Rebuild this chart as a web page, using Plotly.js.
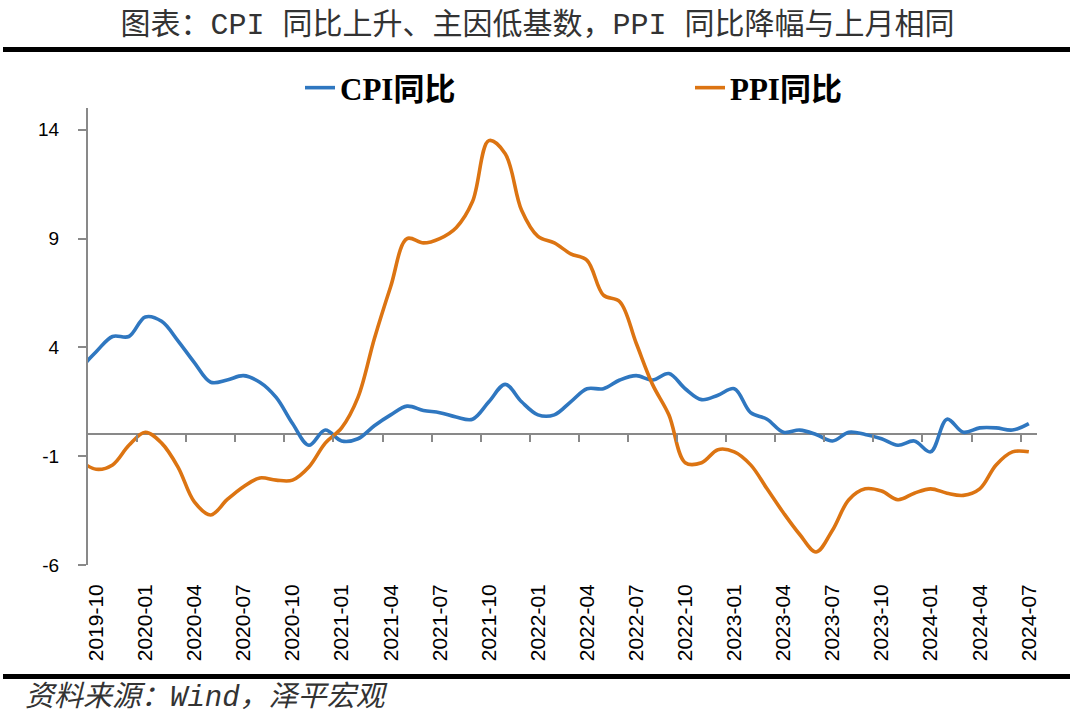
<!DOCTYPE html>
<html>
<head>
<meta charset="utf-8">
<script src="https://cdn.plot.ly/plotly-3.0.1.min.js"></script>
<style>html,body{margin:0;padding:0;background:#fff;}#chart{width:1080px;height:722px;}</style>
</head>
<body>
<div id="chart"></div>
<script>
// Months (2019-09 is just outside the visible range, line runs in from the left edge)
const months = ["2019-09","2019-10","2019-11","2019-12",
  "2020-01","2020-02","2020-03","2020-04","2020-05","2020-06","2020-07","2020-08","2020-09","2020-10","2020-11","2020-12",
  "2021-01","2021-02","2021-03","2021-04","2021-05","2021-06","2021-07","2021-08","2021-09","2021-10","2021-11","2021-12",
  "2022-01","2022-02","2022-03","2022-04","2022-05","2022-06","2022-07","2022-08","2022-09","2022-10","2022-11","2022-12",
  "2023-01","2023-02","2023-03","2023-04","2023-05","2023-06","2023-07","2023-08","2023-09","2023-10","2023-11","2023-12",
  "2024-01","2024-02","2024-03","2024-04","2024-05","2024-06","2024-07"];

const cpiYoY = [3.0,3.8,4.5,4.5,
  5.4,5.2,4.3,3.3,2.4,2.5,2.7,2.4,1.7,0.5,-0.5,0.2,
  -0.3,-0.2,0.4,0.9,1.3,1.1,1.0,0.8,0.7,1.5,2.3,1.5,
  0.9,0.9,1.5,2.1,2.1,2.5,2.7,2.5,2.8,2.1,1.6,1.8,
  2.1,1.0,0.7,0.1,0.2,0.0,-0.3,0.1,0.0,-0.2,-0.5,-0.3,
  -0.8,0.7,0.1,0.3,0.3,0.2,0.5];

const ppiYoY = [-1.2,-1.6,-1.4,-0.5,
  0.1,-0.4,-1.5,-3.1,-3.7,-3.0,-2.4,-2.0,-2.1,-2.1,-1.5,-0.4,
  0.3,1.7,4.4,6.8,9.0,8.8,9.0,9.5,10.7,13.5,12.9,10.3,
  9.1,8.8,8.3,8.0,6.4,6.1,4.2,2.3,0.9,-1.3,-1.3,-0.7,
  -0.8,-1.4,-2.5,-3.6,-4.6,-5.4,-4.4,-3.0,-2.5,-2.6,-3.0,-2.7,
  -2.5,-2.7,-2.8,-2.5,-1.4,-0.8,-0.8];

const xTickLabels = ["2019-10","2020-01","2020-04","2020-07","2020-10","2021-01","2021-04","2021-07","2021-10",
  "2022-01","2022-04","2022-07","2022-10","2023-01","2023-04","2023-07","2023-10","2024-01","2024-04","2024-07"];
const yTickVals = [14, 9, 4, -1, -6];

const seriesNames = ["CPI同比", "PPI同比"];
const titleText = "图表：CPI 同比上升、主因低基数，PPI 同比降幅与上月相同";
const sourceText = "资料来源：Wind，泽平宏观";

const yMin = -6, yMax = 15;
const xRange = [0.5, months.length - 0.5];
// boundary tick marks every 3 months on the zero axis
const boundaryTicks = [];
for (let i = 3.5; i < months.length - 0.5; i += 3) boundaryTicks.push(i);

const gray = '#898989';
const traces = [
  {x: months, y: cpiYoY, name: seriesNames[0], type: 'scatter', mode: 'lines',
   line: {color: '#2F77C0', width: 3.6, shape: 'spline', smoothing: 1}, xaxis: 'x', yaxis: 'y'},
  {x: months, y: ppiYoY, name: seriesNames[1], type: 'scatter', mode: 'lines',
   line: {color: '#DC7412', width: 3.6, shape: 'spline', smoothing: 1}, xaxis: 'x', yaxis: 'y'},
  // empty helper trace so the tick-only axis on the zero line is drawn
  {x: [], y: [], type: 'scatter', mode: 'lines', xaxis: 'x2', yaxis: 'y', showlegend: false, hoverinfo: 'skip'}
];

const L = 88, R = 1037, T = 108, B = 565, W = 1080, H = 722;
const pw = R - L, ph = B - T;
const px = v => (v - L) / pw;
const py = v => (B - v) / ph;

const layout = {
  width: W, height: H,
  margin: {l: L, r: W - R, t: T, b: H - B, pad: 0, autoexpand: false},
  paper_bgcolor: '#fff', plot_bgcolor: '#fff',
  showlegend: true,
  title: {text: titleText, xref: 'container', yref: 'container', x: 537.5 / W, xanchor: 'center',
          y: 1 - 23 / H, yanchor: 'middle',
          font: {family: 'Liberation Mono, Noto Sans CJK SC', size: 30, color: '#333'}},
  legend: {orientation: 'h', x: px(300), xanchor: 'left', y: py(88), yanchor: 'middle',
           font: {family: 'Liberation Serif, Noto Sans CJK SC', size: 31, color: '#000', weight: 'bold'},
           entrywidth: 345, entrywidthmode: 'pixels', itemwidth: 30, bgcolor: 'rgba(0,0,0,0)'},
  xaxis: {type: 'category', range: xRange, tickmode: 'array', tickvals: xTickLabels, ticktext: xTickLabels,
          tickangle: -90, ticks: '', showgrid: false, zeroline: false, showline: false,
          tickfont: {family: 'Liberation Sans, Arial', size: 21, color: '#000'}, ticklabelstandoff: 14,
          fixedrange: true},
  xaxis2: {type: 'linear', overlaying: 'x', anchor: 'free', position: (0 - yMin) / (yMax - yMin), side: 'bottom',
           range: xRange, tickmode: 'array', tickvals: boundaryTicks, ticks: 'outside', ticklen: 7, tickwidth: 2,
           tickcolor: gray, showticklabels: false, showgrid: false, zeroline: false, showline: false},
  yaxis: {range: [yMin, yMax], tickmode: 'array', tickvals: yTickVals, ticktext: yTickVals.map(String),
          ticks: 'outside', ticklen: 8, tickwidth: 2, tickcolor: gray,
          showline: true, linecolor: gray, linewidth: 2, showgrid: false,
          zeroline: true, zerolinecolor: gray, zerolinewidth: 2,
          tickfont: {family: 'Liberation Sans, Arial', size: 19, color: '#000'}, ticklabelstandoff: 15},
  shapes: [
    {type: 'line', xref: 'paper', yref: 'paper', x0: px(3), x1: px(1070), y0: py(49.5), y1: py(49.5),
     line: {color: '#000', width: 5}},
    {type: 'line', xref: 'paper', yref: 'paper', x0: px(3), x1: px(1070), y0: py(676.5), y1: py(676.5),
     line: {color: '#000', width: 5}}
  ],
  annotations: [
    {text: sourceText, xref: 'paper', yref: 'paper', x: px(23), y: py(698), xanchor: 'left', yanchor: 'middle',
     showarrow: false, font: {family: 'Liberation Mono, Noto Sans CJK SC', size: 29, color: '#333', style: 'italic'}}
  ]
};

Plotly.newPlot('chart', traces, layout, {displayModeBar: false, staticPlot: true});
</script>
</body>
</html>
